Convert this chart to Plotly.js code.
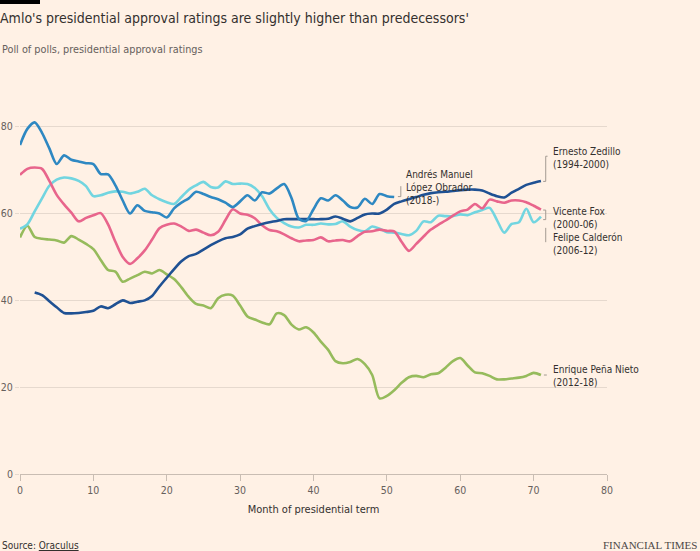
<!DOCTYPE html>
<html><head><meta charset="utf-8">
<script src="https://cdn.plot.ly/plotly-3.0.1.min.js"></script>
<style>html,body{margin:0;padding:0;background:#fff1e5;}</style>
</head><body>
<div id="chart" style="width:700px;height:551px;"></div>
<script>
const FONT = '"Liberation Sans Narrow", "DejaVu Sans Condensed", Roboto, sans-serif';

// Approval ratings (%) by month of presidential term
const amloStart = 0;
const amloValues = [75.8,79.5,81.0,78.6,75.0,71.4,73.4,72.4,72.0,71.6,
  71.4,69.1,69.0,66.5,63.0,60.0,61.9,60.6,60.3,60.0,
  59.1,61.2,62.5,63.5,65.0,64.5,63.8,63.3,62.5,61.5,
  62.8,64.2,63.0,64.9,64.6,65.8,66.8,63.6,58.8,58.3,
  61.0,63.5,63.0,64.2,63.0,61.5,61.4,63.4,62.2,64.5,
  64.0,63.8];

const zedilloStart = 2;
const zedilloValues = [41.8,41.2,39.8,38.4,37.1,37.0,37.1,37.3,37.6,38.6,
  38.2,39.1,40.0,39.4,39.7,40.0,41.0,43.2,45.2,47.2,
  49.0,50.2,50.7,51.7,52.7,53.6,54.3,54.6,55.2,56.5,
  57.1,57.6,58.0,58.3,58.7,58.7,58.7,58.7,58.7,58.7,
  58.8,59.3,58.8,58.2,59.0,59.8,60.0,60.0,60.9,62.2,
  62.8,63.3,63.8,64.3,64.7,64.9,65.0,65.2,65.4,65.5,
  65.5,65.3,64.6,64.0,63.7,64.8,65.7,66.6,67.1,67.5];

const foxStart = 0;
const foxValues = [68.9,70.3,70.6,70.3,67.5,64.3,62.1,60.2,58.2,59.0,
  59.6,60.1,57.5,53.5,50.0,48.4,49.7,51.5,54.0,56.6,
  57.4,57.7,57.0,56.0,56.3,55.6,55.0,55.8,58.5,61.0,
  60.0,59.7,58.9,57.3,56.2,55.9,55.2,54.3,53.6,53.8,
  53.9,54.5,53.6,53.8,53.9,53.6,54.8,55.8,55.9,56.3,
  56.0,55.9,53.5,51.4,53.0,54.7,56.3,57.4,58.4,59.5,
  60.5,60.9,62.2,61.2,63.2,62.8,62.5,63.0,63.0,62.6,
  61.8,60.9];

const calderonStart = 0;
const calderonValues = [56.5,57.5,60.5,63.5,66.4,67.8,68.3,68.1,67.5,66.3,
  64.0,64.2,64.8,65.1,65.0,64.6,65.0,65.7,64.2,63.3,
  62.6,62.2,63.8,65.5,66.5,67.3,66.1,66.0,67.4,66.8,
  66.9,66.8,65.9,64.0,61.0,59.0,57.8,57.0,56.8,57.4,
  57.4,57.7,57.5,57.6,58.2,57.0,56.2,55.9,57.0,56.5,
  55.7,55.6,55.3,55.0,56.0,58.2,58.0,59.5,59.4,59.4,
  59.8,59.6,60.3,60.8,61.3,58.5,55.6,57.6,58.0,61.1,
  58.0,59.3];

const penaStart = 0;
const penaValues = [54.5,57.2,54.6,54.2,54.0,53.8,53.3,54.8,54.0,53.0,
  51.8,49.3,47.0,46.6,44.3,45.0,45.8,46.6,46.2,47.0,
  46.0,44.9,43.0,40.8,39.2,38.8,38.2,40.5,41.3,41.1,
  38.8,36.3,35.6,34.9,34.5,37.0,36.6,34.4,33.3,33.8,
  32.6,30.5,28.6,26.0,25.5,25.8,26.5,25.3,22.8,17.4,
  18.0,19.3,21.0,22.3,22.6,22.3,23.0,23.2,24.5,26.0,
  26.7,25.0,23.4,23.2,22.6,21.8,21.8,22.0,22.2,22.6,
  23.3,22.8];

const xTickVals = [0,10,20,30,40,50,60,70,80];
const yTickVals = [0,20,40,60,80];

function months(start, vals){ return vals.map((_, i) => start + i); }

const series = [
  {name:'Enrique Peña Nieto (2012-18)', start:penaStart, vals:penaValues, color:'#96bb5c'},
  {name:'Felipe Calderón (2006-12)', start:calderonStart, vals:calderonValues, color:'#72d5e0'},
  {name:'Vicente Fox (2000-06)', start:foxStart, vals:foxValues, color:'#e8658c'},
  {name:'Ernesto Zedillo (1994-2000)', start:zedilloStart, vals:zedilloValues, color:'#1f5193'},
  {name:'Andrés Manuel López Obrador (2018-)', start:amloStart, vals:amloValues, color:'#2e88c2'}
];

const traces = series.map(s => ({
  type:'scatter', mode:'lines', name:s.name,
  x: months(s.start, s.vals), y: s.vals,
  line:{color:s.color, width:2.6, shape:'spline', smoothing:0.8},
  hoverinfo:'skip'
}));

// layout geometry helpers (plot area: left 20px, width 587px; top 105px, height 369px)
const L = 20, W = 587, T = 105, H = 369;
const px = p => (p - L) / W;
const py = p => (T + H - p) / H;

const labelColor = '#33302e';
const leaderColor = '#a39a92';
function lab(text, x, y){
  return {text, x, y, xref:'x', yref:'y', xanchor:'left', yanchor:'middle', showarrow:false,
    align:'left', font:{family:FONT, size:10, color:labelColor}};
}

const annotations = [
  {text:'Poll of polls, presidential approval ratings', xref:'paper', yref:'paper',
   x:px(0), y:py(50), xanchor:'left', yanchor:'middle', showarrow:false,
   font:{family:FONT, size:10.8, color:'#66605c'}},
  lab('Ernesto Zedillo<br>(1994-2000)', 72.3, 72.7),
  lab('Vicente Fox<br>(2000-06)', 72.3, 59.0),
  lab('Felipe Calderón<br>(2006-12)', 72.3, 53.0),
  lab('Andrés Manuel<br>López Obrador<br>(2018-)', 52.4, 66.1),
  lab('Enrique Peña Nieto<br>(2012-18)', 72.3, 22.5),
  {text:'Source: <u>Oraculus</u>', xref:'paper', yref:'paper', x:px(0), y:py(545),
   xanchor:'left', yanchor:'middle', showarrow:false,
   font:{family:FONT, size:10, color:'#33302e'}},
  {text:'FINANCIAL TIMES', xref:'paper', yref:'paper', x:px(699), y:py(545),
   xanchor:'right', yanchor:'middle', showarrow:false,
   font:{family:'"Liberation Serif", "DejaVu Serif", serif', size:11, color:'#4d4845'}}
];

const shapes = [
  {type:'rect', xref:'paper', yref:'paper', x0:px(0), x1:px(40), y0:py(4), y1:py(0),
   fillcolor:'#000000', line:{width:0}},
  // leader lines
  {type:'path', xref:'x', yref:'y', path:'M 71.3,67.4 L 71.65,67.4 L 71.65,73.2 L 71.9,73.2',
   line:{color:leaderColor, width:1}},
  {type:'path', xref:'x', yref:'y', path:'M 71.3,60.8 L 71.65,60.8 L 71.65,58.6 L 71.3,58.6',
   line:{color:leaderColor, width:1}},
  {type:'path', xref:'x', yref:'y', path:'M 71.65,56.7 L 71.65,53.4',
   line:{color:leaderColor, width:1}},
  {type:'path', xref:'x', yref:'y', path:'M 51.5,63.9 L 51.9,63.9 L 51.9,66.3',
   line:{color:leaderColor, width:1}},
  {type:'path', xref:'x', yref:'y', path:'M 71.4,22.8 L 71.8,22.8',
   line:{color:leaderColor, width:1}}
];

const layout = {
  width:700, height:551,
  paper_bgcolor:'#fff1e5', plot_bgcolor:'#fff1e5',
  margin:{l:L, r:700-L-W, t:T, b:551-T-H, pad:0},
  showlegend:false,
  font:{family:FONT, color:'#66605c'},
  title:{text:"Amlo's presidential approval ratings are slightly higher than predecessors'",
    xref:'container', yref:'container', x:0, y:1-18/551, xanchor:'left', yanchor:'middle',
    font:{family:FONT, size:14, color:'#33302e'}},
  xaxis:{range:[0,80], tickvals:xTickVals, ticktext:xTickVals.map(String),
    showgrid:false, zeroline:false, showline:true, linecolor:'#c9bdb3', linewidth:1,
    ticks:'outside', ticklen:6, tickcolor:'#c9bdb3', tickwidth:1,
    tickfont:{family:FONT, size:10.5, color:'#66605c'},
    title:{text:'Month of presidential term', standoff:10,
      font:{family:FONT, size:11, color:'#33302e'}}},
  yaxis:{range:[0,85], tickvals:yTickVals, ticktext:yTickVals.map(String),
    showgrid:true, gridcolor:'#e6d9ce', gridwidth:1, zeroline:false, showline:false,
    ticks:'outside', ticklen:4, tickcolor:'#e6d9ce',
    tickfont:{family:FONT, size:10.5, color:'#66605c'}},
  annotations, shapes
};

Plotly.newPlot('chart', traces, layout, {displayModeBar:false, staticPlot:true});
</script>
</body></html>
